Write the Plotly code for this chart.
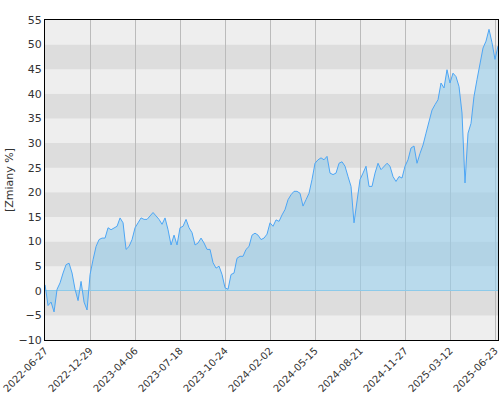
import plotly.graph_objects as go

tick_labels = ["2022-06-27", "2022-12-29", "2023-04-06", "2023-07-18", "2023-10-24",
               "2024-02-02", "2024-05-15", "2024-08-21", "2024-11-27", "2025-03-12", "2025-06-23"]

values = [
    1.2, -3, -2.3, -4.3, 0.3, 1.6, 3.6, 5.3, 5.6, 3.6, 0.3, -2, 1.9, -2.3, -3.9,
    3.3, 6.3, 9, 10.4, 10.7, 10.7, 12.8, 12.4, 12.8, 13.1, 14.8, 13.8, 8.4, 9, 10.4,
    12.8, 13.8, 14.8, 14.5, 14.5, 15.2, 15.9, 15.2, 14.5, 13.5, 14.8, 12.4, 9.3, 11.3, 9.3,
    12.8, 13.1, 14.5, 12.8, 11.8, 9.3, 9.7, 10.7, 9.7, 8.4, 8.4, 5.7, 4.6, 5, 3.3,
    0.6, 0.3, 3.3, 3.6, 6.6, 7, 7, 8.4, 9, 11.3, 11.7, 11.3, 10.4, 10.7, 11.5,
    13.8, 13.1, 14.4, 14.1, 15.4, 16.5, 18.5, 19.5, 20.2, 20.2, 19.8, 17.2, 18.5, 19.8, 22.6,
    25.9, 26.6, 27, 26.6, 27.3, 23.9, 23.6, 23.9, 25.9, 26.2, 25.3, 23.2, 21.2, 13.8, 18.5,
    22.6, 23.9, 25.3, 21.2, 21.2, 23.9, 25.9, 24.6, 25.3, 25.9, 25.3, 23.2, 22.2, 23.2, 22.9,
    25.3, 26.6, 29, 29.4, 25.9, 27.9, 29.6, 32, 34.4, 36.7, 37.8, 38.8, 42.2, 41.2, 44.9,
    42.2, 44.2, 43.5, 41.5, 36.1, 21.9, 32, 34, 39.5, 42.9, 46.3, 49.3, 50.7, 53.1, 50.4,
    47, 49.7,
]
x = list(range(len(values)))
tick_step = 15

fig = go.Figure()
fig.add_trace(go.Scatter(x=x, y=values, mode="lines", fill="tozeroy",
                         line=dict(color="#4da6f5", width=1),
                         fillcolor="rgba(150,205,235,0.6)"))

# horizontal bands
for i, lo in enumerate(range(-10, 55, 5)):
    fig.add_hrect(y0=lo, y1=lo + 5, line_width=0, layer="below",
                  fillcolor="#eeeeee" if i % 2 == 0 else "#dddddd")

fig.update_layout(
    width=500, height=400, margin=dict(l=45, r=2, t=20, b=60),
    paper_bgcolor="white", plot_bgcolor="#eeeeee", showlegend=False,
    font=dict(family="DejaVu Sans", size=10, color="#333"),
)
fig.update_xaxes(range=[-0.02, len(values) - 1], automargin=False,
                 tickvals=[i * tick_step for i in range(len(tick_labels))],
                 ticktext=tick_labels, tickangle=-45, ticklabeloverflow="allow",
                 showgrid=True, gridcolor="#bbbbbb", gridwidth=1, zeroline=False,
                 showline=True, linecolor="black", linewidth=1, mirror=True,
                 layer="above traces")
fig.update_yaxes(range=[-10, 55], dtick=5, showgrid=False, automargin=False,
                 tickfont=dict(size=11),
                 zeroline=True, zerolinecolor="#88c8e8", zerolinewidth=1,
                 showline=True, linecolor="black", linewidth=1, mirror=True,
                 title=dict(text="[Zmiany %]", standoff=2, font=dict(size=11)))

# drop the default page margin so the figure fills the window exactly
fig.write_html("out.html", config={"displayModeBar": False},
               post_script="document.body.style.margin='0';document.body.style.overflow='hidden';")
